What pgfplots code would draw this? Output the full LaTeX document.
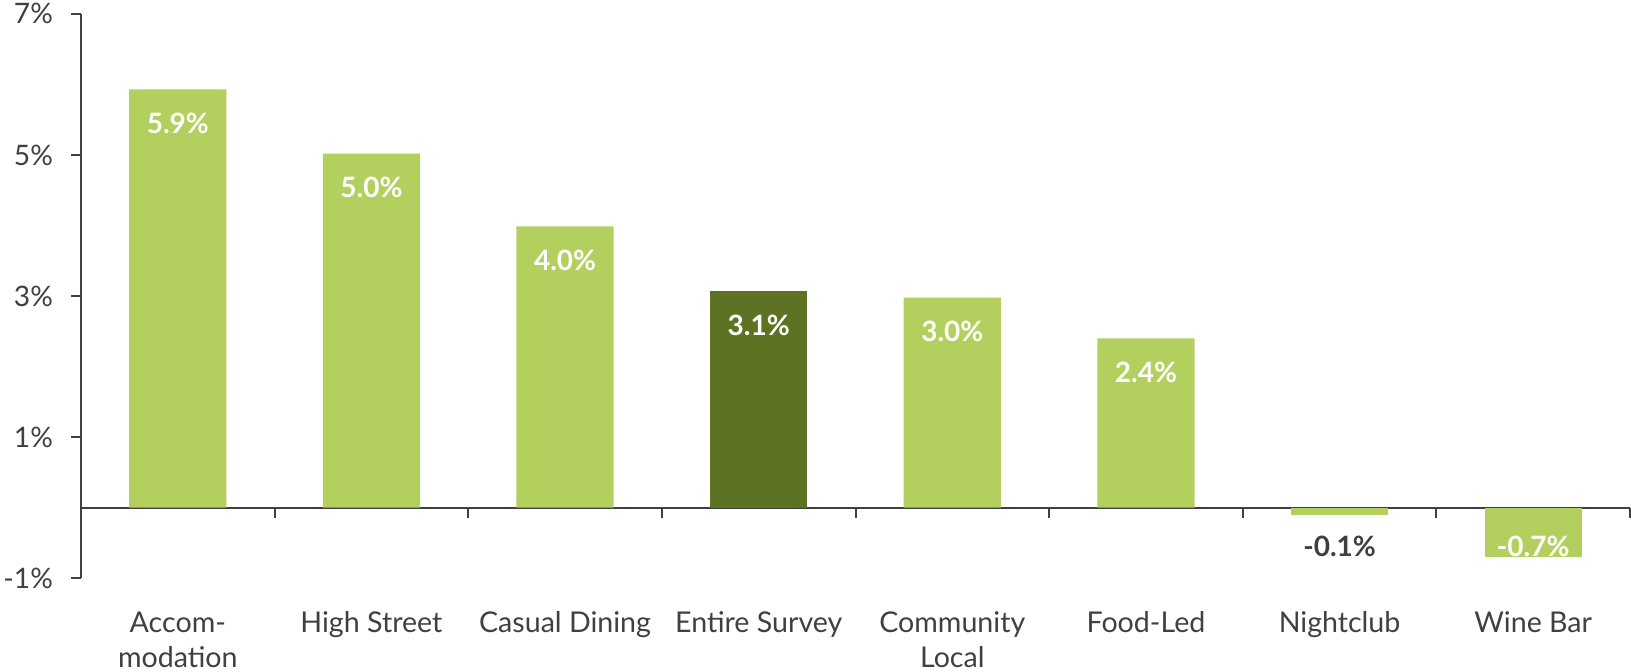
\documentclass[border=0pt]{standalone}
\usepackage{fontspec}
\setmainfont{Lato}
\usepackage{pgfplots}
\pgfplotsset{compat=1.18}
\definecolor{lg}{RGB}{179,208,94}
\definecolor{dg}{RGB}{94,114,35}
\definecolor{ax}{RGB}{64,64,64}
\tikzset{catlab/.style={anchor=north, align=center, inner sep=0pt, text=ax, font=\fontsize{14.3}{17.5}\selectfont, yshift=-16.5pt}}
\begin{document}
\begin{tikzpicture}
\begin{axis}[
  at={(0,0)}, anchor=south west,
  scale only axis, width=774.5pt, height=282.2pt,
  xmin=-0.5, xmax=7.5, ymin=-1, ymax=7,
  axis x line*=middle, axis y line*=left,
  axis line style={ax, line width=1pt},
  xtick={0.5,1.5,2.5,3.5,4.5,5.5,6.5,7.5}, xticklabels={},
  ytick={-1,1,3,5,7}, yticklabels={-1\%,1\%,3\%,5\%,7\%},
  tick style={ax, line width=1pt},
  tick align=outside,
  major tick length=5pt,
  y tick label style={font=\fontsize{14.1}{16}\selectfont, text=ax, xshift=-5.5pt},
  ybar, bar width=48.65pt,
  clip=false,
  nodes near coords={\pgfmathprintnumber[fixed,fixed zerofill,precision=1,assume math mode=true]{\pgfplotspointmeta}\%},
]
\addplot[fill=lg, draw=none, bar shift=0pt,
  nodes near coords style={anchor=center, yshift=-17pt, text=white, font=\bfseries\fontsize{14}{16}\selectfont}]
  coordinates {(0,5.93) (1,5.02) (2,3.99) (4,2.98) (5,2.4)};
\addplot[fill=dg, draw=none, bar shift=0pt,
  nodes near coords style={anchor=center, yshift=-17pt, text=white, font=\bfseries\fontsize{14}{16}\selectfont}]
  coordinates {(3,3.07)};
\addplot[fill=lg, draw=none, bar shift=0pt,
  nodes near coords style={anchor=center, yshift=-16pt, text=ax, font=\bfseries\fontsize{14}{16}\selectfont}]
  coordinates {(6,-0.1)};
\addplot[fill=lg, draw=none, bar shift=0pt,
  nodes near coords style={anchor=center, yshift=5.4pt, text=white, font=\bfseries\fontsize{14}{16}\selectfont}]
  coordinates {(7,-0.7)};
\node[catlab] at (axis cs:0,-1) {Accom-\\modation};
\node[catlab] at (axis cs:1,-1) {High Street};
\node[catlab] at (axis cs:2,-1) {Casual Dining};
\node[catlab] at (axis cs:3,-1) {Entire Survey};
\node[catlab] at (axis cs:4,-1) {Community\\Local};
\node[catlab] at (axis cs:5,-1) {Food-Led};
\node[catlab] at (axis cs:6,-1) {Nightclub};
\node[catlab] at (axis cs:7,-1) {Wine Bar};
\end{axis}
\pgfresetboundingbox
\path (-40.5pt,-46.85pt) rectangle (775pt,289.15pt);
\end{tikzpicture}
\end{document}
